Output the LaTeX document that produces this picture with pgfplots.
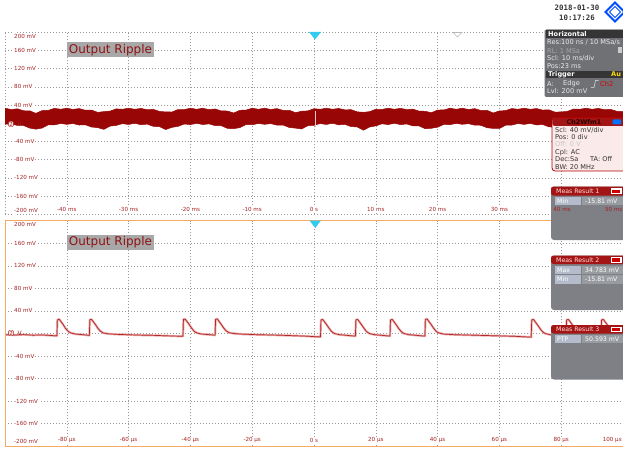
\documentclass[border=0pt]{standalone}
\usepackage{fontspec}
\setmainfont{DejaVu Sans}
\newfontfamily\monof{DejaVu Sans Mono}
\usepackage{pgfplots}
\pgfplotsset{compat=1.18}
\usepackage{pgfplotstable}

\definecolor{bandred}{HTML}{990606}
\definecolor{trace}{HTML}{B22828}
\definecolor{halo}{HTML}{EBA9A9}
\definecolor{tickred}{HTML}{A52222}
\definecolor{gridc}{HTML}{999999}
\definecolor{orangeb}{HTML}{F5AA66}
\definecolor{cyanm}{HTML}{33CCEE}
\definecolor{boxgray}{HTML}{6F7175}
\definecolor{bargray}{HTML}{353535}
\definecolor{measgray}{HTML}{7E8085}
\definecolor{measred}{HTML}{A31414}
\definecolor{lblbox}{HTML}{B4BCCB}
\definecolor{valbox}{HTML}{989BA0}
\definecolor{pinkbg}{HTML}{FBEAEA}
\definecolor{lblgray}{HTML}{A8A8A8}
\definecolor{lbltext}{HTML}{8E1212}

% band outline: upper envelope left->right, then lower envelope right->left
\pgfplotstableread{
t v
-50 33.2
-49 30.2
-48 31.9
-47 27.6
-46 27.5
-45 21.8
-44 28
-43 28.5
-42 32.9
-41 30.8
-40 33.2
-39 30.5
-38 32.4
-37 28.7
-36 29.2
-35 24
-34 25.7
-33 26.8
-32 31.7
-31 30.8
-30 33.2
-29 30.8
-28 32.7
-27 29.8
-26 30.6
-25 26.1
-24 25
-23 24.8
-22 30.3
-21 30.1
-20 33.2
-19 30.8
-18 33.1
-17 30.1
-16 31.5
-15 27.2
-14 27
-13 22.6
-12 28.6
-11 29
-10 33.2
-9 30.8
-8 33.2
-7 30.4
-6 32.3
-5 28.3
-4 28.7
-3 23.4
-2 26.5
-1 27.3
0 32.1
1 30.8
2 33.2
3 30.8
4 32.6
5 29.5
6 30
7 25.1
8 24.2
9 25.6
10 30.9
11 30.5
12 33.2
13 30.8
14 32.9
15 30
16 31.1
17 26.8
18 26.4
19 23.3
20 29.2
21 29.3
22 33.2
23 30.8
24 33.2
25 30.3
26 32.2
27 28.2
28 28.5
29 22.6
30 27.2
31 27.9
32 32.5
33 30.8
34 33.2
35 30.7
36 32.5
37 29.1
38 29.6
39 24.6
40 25
41 26.2
42 31.4
43 30.8
44 33.2
45 30.8
46 32.8
47 29.9
48 30.7
49 26.3
50 25.8
50 -13
49 -6.8
48 -6.2
47 -1.6
46 -3.1
45 0.2
44 -2.7
43 -0.8
42 -5
41 -7.1
40 -14.2
39 -8.8
38 -7.7
37 -2.7
36 -3.6
35 -0.3
34 -2.4
33 -0.5
32 -3.9
31 -4.3
30 -11.4
29 -11.3
28 -9.7
27 -4.3
26 -4.2
25 -0.8
24 -2.2
23 -0.2
22 -3.1
21 -2.3
20 -8.6
19 -10.9
18 -11.9
17 -5.8
16 -5.7
15 -1.4
14 -2.9
13 0.1
12 -2.8
11 -1.1
10 -5.7
9 -8.1
8 -15.2
7 -8.1
6 -7.2
5 -2.3
4 -3.4
3 0.2
2 -2.5
1 -0.6
0 -4.3
-1 -5.3
-2 -12.4
-3 -10.6
-4 -9.2
-5 -3.8
-6 -4
-7 -0.7
-8 -2.2
-9 -0.3
-10 -3.2
-11 -2.6
-12 -9.5
-13 -11.8
-14 -11.2
-15 -5.3
-16 -5.1
-17 -1.2
-18 -2.7
-19 0
-20 -2.9
-21 -1.5
-22 -6.7
-23 -9
-24 -13.7
-25 -7.3
-26 -6.7
-27 -1.8
-28 -3.2
-29 0.2
-30 -2.6
-31 -0.7
-32 -4.7
-33 -6.2
-34 -13.3
-35 -9.5
-36 -8.2
-37 -3.3
-38 -3.8
-39 -0.5
-40 -2.3
-41 -0.4
-42 -3.5
-43 -3.3
-44 -10.5
-45 -12.8
-46 -10.5
-47 -4.8
-48 -4.7
-49 -1
-50 -2.2
}\band

\pgfplotstableread{
t v
-100 -2
-97 -2.8
-94 -1.9
-91 -3.0
-88 -2.6
-85.5 -3.4
-83.2 -4.2
-83.05 24
-82.5 25.5
-82 22
-81.2 16
-80.4 9
-79.6 4
-78.7 1
-77.2 -1
-75 -2
-73.5 -2.8
-72.7 -3.5
-72.55 24.5
-72 25
-71.5 21.5
-70.7 15.5
-69.9 9
-69.1 4
-68.2 1
-66.7 -0.5
-64 -1.5
-60 -2.2
-56 -2.9
-52 -3.3
-48 -4
-45 -4.6
-42.4 -5
-42.25 25
-41.7 25.5
-41.2 22
-40.4 16
-39.6 9.5
-38.8 4
-37.9 1
-36.4 -1
-34 -2
-32 -3
-31.85 25
-31.3 26
-30.8 22
-30 16
-29.2 9.5
-28.4 4.5
-27.5 1.5
-26 0
-23 -1.2
-19 -2
-15 -2.5
-11 -3.1
-7 -3.8
-3 -4.6
0 -5.5
2.1 -6
2.25 24
2.8 25
3.3 21.5
4.1 15.5
4.9 9
5.7 3.5
6.6 0
8.1 -2
10 -3
12 -4
13.4 -4.6
13.55 24
14.1 25
14.6 21.5
15.4 15.5
16.2 9
17 3.5
17.9 0
19.4 -2
21.4 -3
23.4 -4
24.6 -4.6
24.75 24
25.3 25
25.8 21.5
26.6 15.5
27.4 9
28.2 3.5
29.1 0
30.6 -2
32.6 -3
34.6 -4
35.9 -4.6
36.05 25
36.6 26
37.1 22
37.9 16
38.7 9.5
39.5 4
40.4 1
41.9 -1
45 -2
50 -2.8
55 -3.5
60 -4.2
65 -5
68 -5.8
70.3 -6.5
70.45 24
71 25
71.5 21.5
72.3 15.5
73.1 9
73.9 3.5
74.8 0
76.3 -2
78.3 -3
80.3 -4
81.6 -4.6
81.75 24
82.3 25
82.8 21.5
83.6 15.5
84.4 9
85.2 3.5
86.1 0
87.6 -2
89.6 -3
91.6 -4
92.9 -4.6
93.05 24
93.6 25
94.1 21.5
94.9 15.5
95.7 9
96.5 3.5
97.4 0
98.9 -2
100 -2.5
}\ripple

\pgfplotsset{scopeaxis/.style={
  scale only axis, width=618pt,
  ymin=-200, ymax=200,
  axis line style={draw=none},
  tick style={draw=none},
  grid=major,
  major grid style={gridc, line width=0.6pt, dash pattern=on 0.9pt off 2.1pt},
  ytick={-200,-160,...,200},
  yticklabels={,{-160 mV},{-120 mV},{-80 mV},{-40 mV},,{40 mV},{80 mV},{120 mV},{160 mV},},
  yticklabel style={anchor=west, xshift=8.4pt, font=\fontsize{5.6}{6}\selectfont, text=tickred, fill=white, inner sep=0.6pt},
  xticklabel style={anchor=south, font=\fontsize{5.6}{6}\selectfont, text=tickred, fill=white, inner sep=0.6pt},
}}

\tikzset{ticklbl/.style={font=\fontsize{5.6}{6}\selectfont, text=tickred, fill=white, inner sep=0.6pt, anchor=west},
  boxtxt/.style={font=\fontsize{6.6}{7}\selectfont, anchor=west, inner sep=0pt},
  meastxt/.style={font=\fontsize{6.2}{7}\selectfont, anchor=west, inner sep=0pt}}

\begin{document}
\begin{tikzpicture}
\useasboundingbox (0pt,0pt) rectangle (623pt,-449pt);
\fill[white] (0pt,0pt) rectangle (623pt,-449pt);

% ---------- top panel ----------
\begin{axis}[scopeaxis, at={(5pt,-214.3pt)}, anchor=south west, height=182pt,
  xmin=-50, xmax=50,
  xtick={-50,-40,...,50},
  xticklabels={,{-40 ms},{-30 ms},{-20 ms},{-10 ms},{0 s},{10 ms},{20 ms},{30 ms},,},
  xticklabel style={yshift=1.6pt}]
\addplot[fill=bandred, draw=bandred, line width=0.5pt] table[x=t, y=v] {\band};
\addplot[halo!70!white, line width=1pt] coordinates {(0.2,-9) (0.2,27)};
\end{axis}

% ---------- bottom panel ----------
\begin{axis}[scopeaxis, at={(5pt,-446.3pt)}, anchor=south west, height=225.6pt,
  xmin=-100, xmax=100,
  xtick={-100,-80,...,100},
  xticklabels={,{-80 µs},{-60 µs},{-40 µs},{-20 µs},{0 s},{20 µs},{40 µs},{60 µs},{80 µs},},
  xticklabel style={yshift=3pt}]
\addplot[halo, line width=2.2pt, line join=round] table[x=t, y=v] {\ripple};
\addplot[trace, line width=0.7pt, line join=round] table[x=t, y=v] {\ripple};
\end{axis}

\begin{scope}[x=1pt, y=-1pt]
% manual edge tick labels
\node[ticklbl] at (13.4,36) {200 mV};
\node[ticklbl] at (13.4,210.5) {-200 mV};
\node[ticklbl] at (13.4,224.5) {200 mV};
\node[ticklbl] at (13.4,441.5) {-200 mV};
\node[ticklbl, anchor=east] at (622.5,439.8) {100 µs};

% orange selection frame of the bottom panel
\draw[orangeb, line width=1pt] (630,220)--(5.5,220)--(5.5,446.3)--(630,446.3);

% ground markers
\node[draw=tickred, fill=pinkbg, rounded corners=1pt, inner sep=0.7pt, font=\fontsize{5.5}{6}\selectfont, text=tickred] at (11,124) {2};
\node[font=\fontsize{6}{6}\selectfont, text=tickred, anchor=west, inner sep=0pt] at (17.5,124) {V};
\node[draw=tickred, fill=pinkbg, rounded corners=1pt, inner sep=0.7pt, font=\fontsize{5.5}{6}\selectfont, text=tickred] at (11,333) {2};
\node[font=\fontsize{6}{6}\selectfont, text=tickred, anchor=west, inner sep=0pt] at (17.5,333) {V};

% Output Ripple labels
\node[fill=lblgray, text=lbltext, minimum width=87pt, minimum height=15pt, inner sep=0pt, font=\fontsize{12}{12}\selectfont] at (110.5,49.8) {Output Ripple};
\node[fill=lblgray, text=lbltext, minimum width=87pt, minimum height=15pt, inner sep=0pt, font=\fontsize{12}{12}\selectfont] at (110.5,242.5) {Output Ripple};

% trigger markers
\fill[cyanm] (309,32)--(321,32)--(315,39.5)--cycle;
\fill[cyanm] (309.5,220.5)--(321,220.5)--(315.2,228)--cycle;
\draw[gridc!70, line width=0.6pt] (453,32.5)--(462,32.5)--(457.5,37)--cycle;

% date and logo
\node[font=\monof\bfseries\fontsize{7.4}{8}\selectfont, text=black!80] at (577,8) {2018-01-30};
\node[font=\monof\bfseries\fontsize{7.4}{8}\selectfont, text=black!80] at (577,18) {10:17:26};
\draw[blue!70!cyan, line width=2pt] (615,2.5)--(624.5,12)--(615,21.5)--(605.5,12)--cycle;
\draw[blue!70!cyan, line width=1pt] (609.5,12)--(615,6.5)--(620.5,12)--(615,17.5)--cycle;

% Horizontal box
\fill[boxgray, rounded corners=2pt] (544.5,29.5) rectangle (632,97);
\fill[bargray] (545.5,30.5) rectangle (632,37.8);
\node[boxtxt, font=\bfseries\fontsize{6.6}{7}\selectfont, text=white] at (548,34.2) {Horizontal};
\node[boxtxt, text=black!8] at (547,42.7) {Res:100 ns / 10 MSa/s};
\node[boxtxt, text=black!35] at (547,50.7) {RL: 1 MSa};
\fill[black!20] (617.5,47.5) rectangle (622,53.5);
\node[boxtxt, text=black!8] at (547,58.7) {Scl: 10 ms/div};
\node[boxtxt, text=black!8] at (547,66.2) {Pos:23 ms};
\fill[bargray] (545.5,70.6) rectangle (632,78);
\node[boxtxt, font=\bfseries\fontsize{6.6}{7}\selectfont, text=white] at (548,74.4) {Trigger};
\node[boxtxt, font=\bfseries\fontsize{6.6}{7}\selectfont, text=yellow!80!orange] at (611,74.4) {Au};
\node[boxtxt, text=black!8] at (547,84) {A:};
\node[boxtxt, text=black!8] at (563,84) {Edge};
\draw[black!8, line width=0.5pt] (591,87.5)--(594,87.5)--(595.5,80.5)--(598.5,80.5);
\node[boxtxt, text=red!85!black] at (600,84) {Ch2};
\node[boxtxt, text=black!8] at (547,90.8) {Lvl: 200 mV};

% Ch2Wfm1 box
\filldraw[fill=pinkbg, draw=red!70!black, line width=0.8pt, rounded corners=3pt] (552,117.5) rectangle (632,171);
\fill[measred, rounded corners=2pt] (552.4,117.9) rectangle (632,125.8);
\node[font=\bfseries\fontsize{6.4}{7}\selectfont, text=black!85!red, inner sep=0pt] at (584,122) {Ch2Wfm1};
\fill[blue!55!cyan, rounded corners=1pt] (612.5,119.5) rectangle (621,124.5);
\node[boxtxt, text=black!80] at (555,130.2) {Scl: 40 mV/div};
\node[boxtxt, text=black!80] at (555,137.4) {Pos: 0 div};
\node[boxtxt, text=black!22] at (555,144.5) {Off: 0 V};
\node[boxtxt, text=black!80] at (555,152.3) {Cpl: AC};
\node[boxtxt, text=black!80] at (555,159.4) {Dec:Sa};
\node[boxtxt, text=black!80] at (590,159.4) {TA: Off};
\node[boxtxt, text=black!80] at (555,166.6) {BW: 20 MHz};

% Meas Result 1
\fill[measgray, rounded corners=3pt] (551,186.5) rectangle (632,240);
\fill[measred, rounded corners=2.5pt] (551,186.5) rectangle (632,195.6);
\node[meastxt, text=red!10] at (556,191.2) {Meas Result 1};
\fill[white] (610.5,188.3) rectangle (621.5,194);
\fill[red!80!black] (612,189.5) rectangle (620,192.8);
\fill[lblbox] (555,196.5) rectangle (580.5,205.3);
\node[meastxt, text=white] at (557,201) {Min};
\fill[valbox] (582,196.5) rectangle (632,205.3);
\node[meastxt, text=white] at (585,201) {-15.81 mV};
\node[font=\fontsize{5.6}{6}\selectfont, text=tickred, inner sep=0pt] at (562,209.2) {40 ms};
\node[font=\fontsize{5.6}{6}\selectfont, text=tickred, inner sep=0pt, anchor=east] at (622.5,209.2) {50 ms};

% Meas Result 2
\fill[measgray, rounded corners=3pt] (551,255.5) rectangle (632,310);
\fill[measred, rounded corners=2.5pt] (551,255.5) rectangle (632,264);
\node[meastxt, text=red!10] at (556,259.8) {Meas Result 2};
\fill[white] (610.5,257.2) rectangle (621.5,262.6);
\fill[red!80!black] (612,258.4) rectangle (620,261.5);
\fill[lblbox] (555,265.8) rectangle (580.5,274.3);
\node[meastxt, text=white] at (557,270) {Max};
\fill[valbox] (582,265.8) rectangle (632,274.3);
\node[meastxt, text=white] at (585,270) {34.783 mV};
\fill[lblbox] (555,275.3) rectangle (580.5,283.8);
\node[meastxt, text=white] at (557,279.5) {Min};
\fill[valbox] (582,275.3) rectangle (632,283.8);
\node[meastxt, text=white] at (585,279.5) {-15.81 mV};

% Meas Result 3
\fill[measgray, rounded corners=3pt] (551,325) rectangle (632,379.5);
\fill[measred, rounded corners=2.5pt] (551,325) rectangle (632,333.5);
\node[meastxt, text=red!10] at (556,329.2) {Meas Result 3};
\fill[white] (610.5,326.7) rectangle (621.5,332.1);
\fill[red!80!black] (612,327.9) rectangle (620,331);
\fill[lblbox] (555,334.8) rectangle (580.5,343.3);
\node[meastxt, text=white] at (557,339) {PTP};
\fill[valbox] (582,334.8) rectangle (632,343.3);
\node[meastxt, text=white] at (585,339) {50.593 mV};
\end{scope}
\end{tikzpicture}
\end{document}
